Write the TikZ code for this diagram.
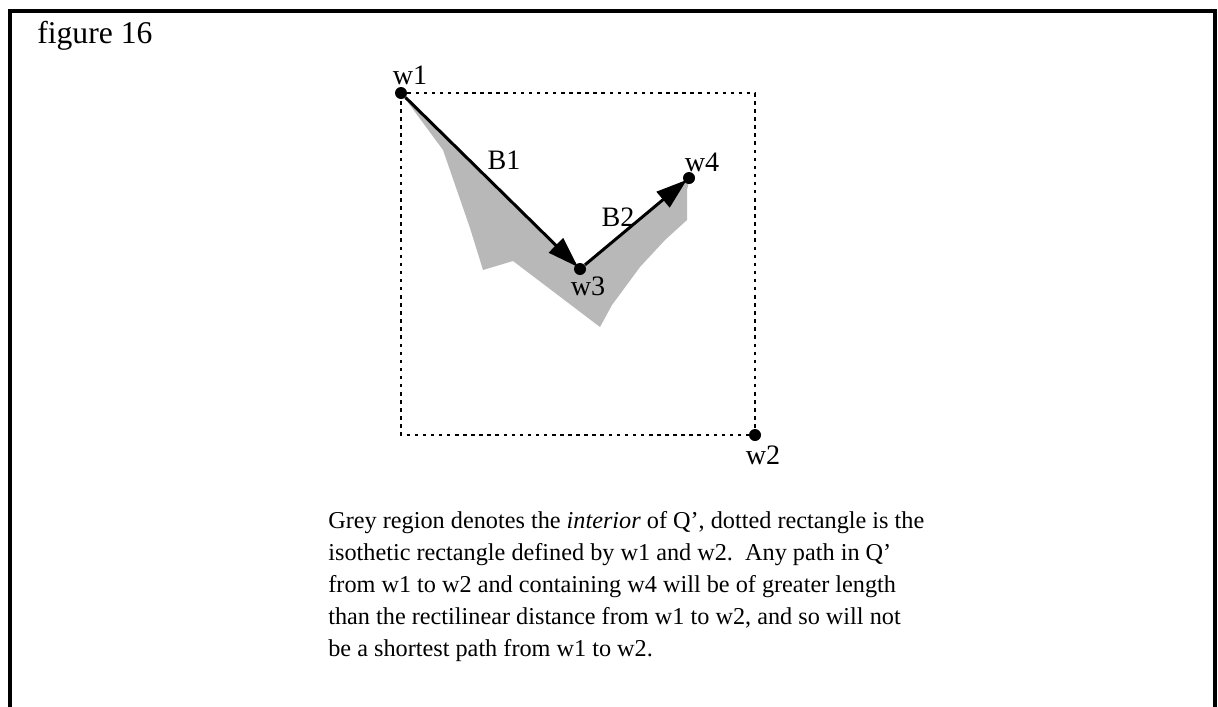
\documentclass[tikz,border=0pt]{standalone}
\usepackage{fontspec}
\setmainfont{Liberation Serif}
\usetikzlibrary{arrows.meta}

\tikzset{
  dot/.style={circle, fill, inner sep=0pt, minimum size=0.24cm},
  ptlabel/.style={inner sep=0pt, font=\fontsize{16}{19}\selectfont},
  edge/.style={line width=1.7pt, -{Triangle[length=0.62cm, width=0.4cm]}, shorten >=-2pt},
}

\begin{document}
\begin{tikzpicture}[x=0.02cm, y=-0.02cm]

    \useasboundingbox (0,0) rectangle (1218,707);

    % frame, open at the bottom
    \draw[line width=1.8pt] (10,707) -- (10,11) -- (1215,11) -- (1215,707);
    \node[anchor=base west, inner sep=0pt, font=\fontsize{18}{22}\selectfont] (title) at (37,43) {figure 16};

    % grey interior of Q'
    \fill[black!28] (401,93) -- (443,150) -- (470,228) -- (483,270) -- (513,261)
        -- (600,327) -- (612,305) -- (640,267) -- (665,240) -- (687,220)
        -- (687,190) -- (690,177) -- (580,270) -- cycle;

    % points
    \node[dot] (w1) at (401,93) {};
    \node[dot] (w2) at (755,435) {};
    \node[dot] (w3) at (580,269) {};
    \node[dot] (w4) at (689,178) {};

    % isothetic rectangle
    \draw[line width=1.5pt, dash pattern=on 2pt off 2.6pt] (w1.center) rectangle (w2.center);

    % edges
    \draw[edge] (w1) -- (w3);
    \draw[edge] (w3) -- (w4);

    \node[ptlabel] (l1) at (410,75) {w1};
    \node[ptlabel] (l2) at (763,455) {w2};
    \node[ptlabel] (l3) at (588,286) {w3};
    \node[ptlabel] (l4) at (702,162) {w4};
    \node[ptlabel] (b1) at (504,160) {B1};
    \node[ptlabel] (b2) at (618,217) {B2};

    \node[anchor=north west, inner sep=0pt, align=left,
          font=\fontsize{13.8}{18.2}\selectfont] (caption) at (328,511)
      {Grey region denotes the \textit{interior} of Q’, dotted rectangle is the\\
       isothetic rectangle defined by w1 and w2.\ \ Any path in Q’\\
       from w1 to w2 and containing w4 will be of greater length\\
       than the rectilinear distance from w1 to w2, and so will not\\
       be a shortest path from w1 to w2.};

\end{tikzpicture}
\end{document}
